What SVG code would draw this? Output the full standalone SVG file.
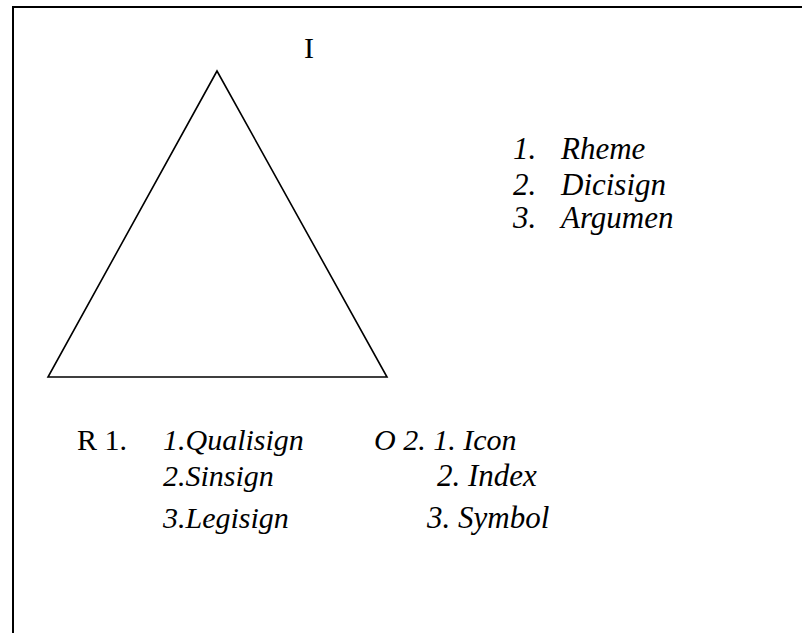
<svg xmlns="http://www.w3.org/2000/svg" width="802" height="633" viewBox="0 0 802 633">
<style>
.t{font-family:"Liberation Serif","Times New Roman",serif;font-size:30px;fill:#000}
.i{font-style:italic}
.w{font-size:31px}
.ln{stroke:#000;fill:none}
</style>
<rect width="802" height="633" fill="#fff"/>
<g id="frame">
<polyline class="ln" stroke-width="2" points="13,633 13,7 802,7"/>
</g>
<g id="triangle">
<polygon class="ln" stroke-width="1.6" points="217,71 48,377 387,377"/>
</g>
<g id="label-I"><text class="t" x="304" y="58">I</text></g>
<g id="interpretant-list">
<text class="t i w" x="513" y="159">1.</text><text class="t i w" x="561" y="159">Rheme</text>
<text class="t i w" x="513" y="195">2.</text><text class="t i w" x="561" y="195">Dicisign</text>
<text class="t i w" x="513" y="228">3.</text><text class="t i w" x="561" y="228">Argumen</text>
</g>
<g id="representamen-list">
<text class="t" x="77" y="450">R 1.</text>
<text class="t i" x="163" y="450">1.Qualisign</text>
<text class="t i" x="163" y="486">2.Sinsign</text>
<text class="t i" x="163" y="528">3.Legisign</text>
</g>
<g id="object-list">
<text class="t i" x="374" y="450">O 2. 1. Icon</text>
<text class="t i w" x="437" y="486">2. Index</text>
<text class="t i w" x="427" y="528">3. Symbol</text>
</g>
</svg>
